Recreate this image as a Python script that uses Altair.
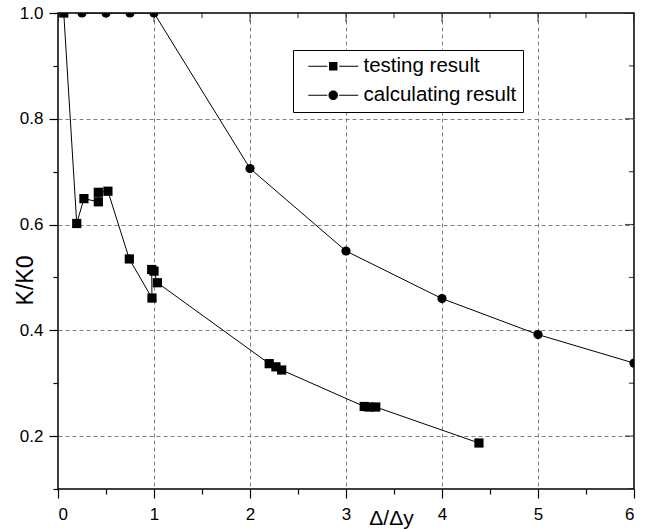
import altair as alt
import pandas as pd

# Measured stiffness ratio K/K0 against ductility ratio Δ/Δy
test_x = [0.06, 0.195, 0.27, 0.42, 0.42, 0.52, 0.743, 0.979, 0.976, 1.0, 1.035,
          2.20, 2.27, 2.33, 3.19, 3.24, 3.31, 4.385]
test_y = [1.0, 0.602, 0.649, 0.643, 0.661, 0.663, 0.535, 0.461, 0.515, 0.512, 0.490,
          0.337, 0.331, 0.325, 0.256, 0.255, 0.255, 0.187]

# Calculated stiffness ratio
calc_x = [0.25, 0.5, 0.75, 1.0, 2.0, 3.0, 4.0, 5.0, 6.0]
calc_y = [1.0, 1.0, 1.0, 1.0, 0.706, 0.550, 0.460, 0.392, 0.338]

series_names = ["testing result", "calculating result"]

# Axis tick positions (majors carry labels, minors in between)
x_ticks = [0, 0.5, 1, 1.5, 2, 2.5, 3, 3.5, 4, 4.5, 5, 5.5, 6]
y_ticks = [0.1, 0.2, 0.3, 0.4, 0.5, 0.6, 0.7, 0.8, 0.9, 1.0]
x_major = [0, 1, 2, 3, 4, 5, 6]
x_minor = [0.5, 1.5, 2.5, 3.5, 4.5, 5.5]
y_major = [0.2, 0.4, 0.6, 0.8, 1.0]
y_minor = [0.1, 0.3, 0.5, 0.7, 0.9]

W, H = 576, 476
FONT = "Liberation Sans"

rows = []
for i, (x, y) in enumerate(zip(test_x, test_y)):
    rows.append({"x": x, "y": y, "series": series_names[0], "idx": i})
for i, (x, y) in enumerate(zip(calc_x, calc_y)):
    rows.append({"x": x, "y": y, "series": series_names[1], "idx": i})
df = pd.DataFrame(rows)

x_scale = alt.Scale(domain=[0, 6], nice=False, zero=False)
y_scale = alt.Scale(domain=[0.1, 1.0], nice=False, zero=False)

x_axis = alt.Axis(
    values=x_ticks,
    title="Δ/Δy",
    labelExpr="datum.value % 1 === 0 ? format(datum.value, 'd') : ''",
    tickSize={"condition": {"test": "datum.value % 1 !== 0", "value": 5}, "value": 9},
    gridOpacity={"condition": {"test": "datum.value % 1 !== 0 || datum.value <= 0 || datum.value >= 6", "value": 0}, "value": 1},
    labelPadding=8,
    titleFontSize=21,
    titleX=333, titleY=35, titleAlign="center", titleBaseline="alphabetic",
    titleAnchor="start",
)
y_axis = alt.Axis(
    values=y_ticks,
    title="K/K0",
    labelExpr="round(datum.value * 10) % 2 === 0 ? format(datum.value, '.1f') : ''",
    tickSize={"condition": {"test": "round(datum.value * 10) % 2 !== 0", "value": 5}, "value": 9},
    gridOpacity={"condition": {"test": "round(datum.value * 10) % 2 !== 0 || datum.value >= 0.99", "value": 0}, "value": 1},
    labelPadding=6,
    titleFontSize=23,
    titleX=-33, titleY=267, titleAngle=270, titleAlign="center", titleBaseline="middle",
    titleAnchor="start",
)

base = alt.Chart(df)

lines = base.mark_line(color="black", strokeWidth=1, clip=True).encode(
    x=alt.X("x:Q", scale=x_scale, axis=x_axis),
    y=alt.Y("y:Q", scale=y_scale, axis=y_axis),
    detail="series:N",
    order="idx:Q",
)

squares = base.transform_filter(
    alt.datum.series == series_names[0]
).mark_point(filled=True, size=85, color="black", opacity=1, shape="square", clip=True).encode(
    x="x:Q", y="y:Q"
)
circles = base.transform_filter(
    alt.datum.series == series_names[1]
).mark_point(filled=True, size=85, color="black", opacity=1, shape="circle", clip=True).encode(
    x="x:Q", y="y:Q"
)

# Legend symbols: a short line (thin filled bar) with the marker in its middle
sq_path = ("M-0.2,-0.1H3.62V0.1H-0.2Z"
           "M5.98,-0.1H9.8V0.1H5.98Z"
           "M3.96,-0.84H5.64V0.84H3.96Z")
ci_path = ("M-0.2,-0.1H3.62V0.1H-0.2Z"
           "M5.98,-0.1H9.8V0.1H5.98Z"
           "M3.85,0A0.95,0.95 0 1,0 5.75,0A0.95,0.95 0 1,0 3.85,0Z")

legend_layer = base.mark_point(filled=True, size=85, color="black", opacity=0, clip=True).encode(
    x="x:Q",
    y="y:Q",
    shape=alt.Shape(
        "series:N",
        scale=alt.Scale(domain=series_names, range=[sq_path, ci_path]),
        legend=alt.Legend(
            title=None,
            orient="none",
            legendX=235,
            legendY=37,
            strokeColor="black",
            fillColor="white",
            padding=6,
            symbolSize=100,
            symbolStrokeWidth=0,
            symbolFillColor="black",
            symbolOpacity=1,
            labelOffset=44,
            rowPadding=8,
            labelFont=FONT,
            labelFontSize=20.5,
            labelColor="black",
        ),
    ),
)

# Inward ticks on the top and right edges of the frame
top_major = alt.Chart(pd.DataFrame({"v": x_major})).mark_tick(
    orient="vertical", size=18, thickness=1.2, color="black", clip=True
).encode(x="v:Q", y=alt.value(0))
top_minor = alt.Chart(pd.DataFrame({"v": x_minor})).mark_tick(
    orient="vertical", size=10, thickness=1.2, color="black", clip=True
).encode(x="v:Q", y=alt.value(0))
right_major = alt.Chart(pd.DataFrame({"v": y_major})).mark_tick(
    orient="horizontal", size=18, thickness=1.2, color="black", clip=True
).encode(y="v:Q", x=alt.value(W))
right_minor = alt.Chart(pd.DataFrame({"v": y_minor})).mark_tick(
    orient="horizontal", size=10, thickness=1.2, color="black", clip=True
).encode(y="v:Q", x=alt.value(W))

chart = alt.layer(
    lines, squares, circles, legend_layer, top_major, top_minor, right_major, right_minor
).properties(
    width=W,
    height=H,
    background="white",
    autosize=alt.AutoSizeParams(type="none"),
    padding={"left": 58, "top": 13, "right": 18, "bottom": 40},
).configure_view(
    stroke="black", strokeWidth=1.5
).configure_axis(
    domain=False,
    grid=True,
    gridColor="#808080",
    gridDash=[4, 3],
    gridWidth=1,
    tickColor="black",
    tickWidth=1.2,
    labelFont=FONT,
    labelFontSize=17,
    labelColor="black",
    titleFont=FONT,
    titleFontWeight="normal",
    titleColor="black",
)

chart.save("out.html", embed_options={"renderer": "svg", "actions": False})
